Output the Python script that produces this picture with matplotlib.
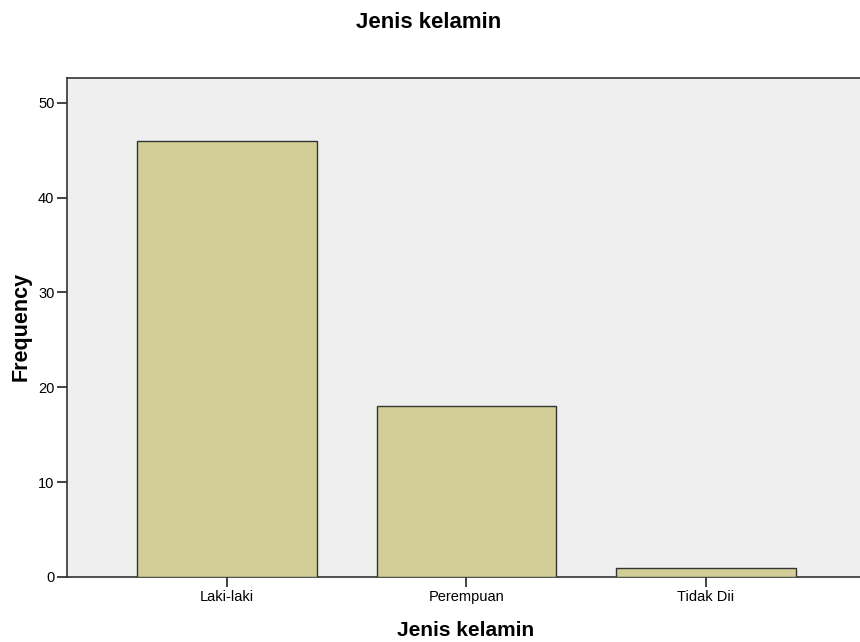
import matplotlib
matplotlib.use("Agg")
import matplotlib.pyplot as plt

categories = ["Laki-laki", "Perempuan", "Tidak Dii"]
frequencies = [46, 18, 1]
yticks = [0, 10, 20, 30, 40, 50]

plt.rcParams['font.family'] = ['Liberation Sans', 'DejaVu Sans']

fig = plt.figure(figsize=(8.6, 6.42), dpi=100)
ax = fig.add_axes([67/860, 1 - 577/642, 1 - 67/860, (577 - 78)/642])
ax.set_facecolor('#EFEFEF')

x = list(range(len(categories)))
ax.bar(x, frequencies, width=0.75, color='#D3CE97', edgecolor='#333333', linewidth=1.0, zorder=3)

ax.set_xlim(-0.668, 2.643)
ax.set_ylim(0, 52.6)
ax.set_xticks(x)
ax.set_xticklabels(categories, fontsize=10.5, va='baseline')
ax.set_yticks(yticks)
ax.set_yticklabels([str(v) for v in yticks], fontsize=10.5)
ax.tick_params(axis='both', direction='out', length=7, width=1.2, color='#222222')
ax.tick_params(axis='x', pad=10.5)
ax.tick_params(axis='y', pad=2)

for side in ['left', 'top', 'bottom']:
    ax.spines[side].set_color('#333333')
    ax.spines[side].set_linewidth(1.2)
ax.spines['right'].set_visible(False)

fig.text(466/860, 1 - 630/642, "Jenis kelamin", ha='center', va='center', fontsize=15, fontweight='bold')
fig.text(21/860, 1 - 326/642, "Frequency", ha='center', va='center', rotation=90, fontsize=15.5, fontweight='bold')
fig.text(429/860, 1 - 23/642, "Jenis kelamin", ha='center', va='center', fontsize=16, fontweight='bold')

fig.savefig("out.png", dpi=100)
